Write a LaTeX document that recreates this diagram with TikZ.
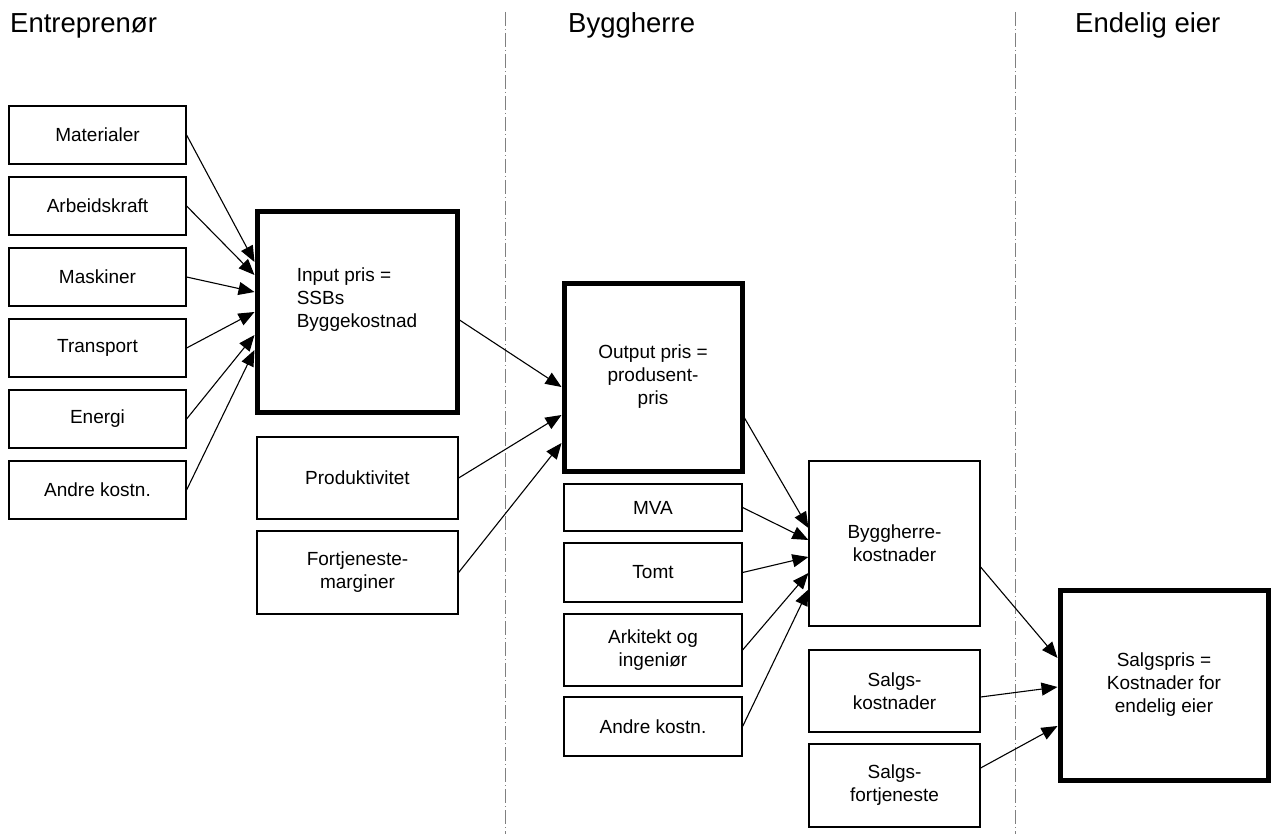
\documentclass[tikz,border=0pt]{standalone}
\usepackage{fontspec}
\setmainfont{Liberation Sans}
\usepackage{tikz}
\usetikzlibrary{arrows.meta}

\begin{document}
\begin{tikzpicture}[x=1pt, y=-1pt,
	box/.style={draw, line width=1.2pt, rectangle, align=center, inner sep=2pt,
		font=\fontsize{19}{23}\selectfont},
	pricebox/.style={box, line width=5pt},
	head/.style={anchor=base west, inner sep=0pt, font=\fontsize{27.5}{32}\selectfont},
	feed/.style={line width=1.1pt, -{Triangle[length=16pt,width=13pt]}},
	divider/.style={gray, line width=0.8pt, dash pattern=on 14pt off 3pt on 1pt off 3pt}]
	\useasboundingbox (0,0) rectangle (1273,834);
	% column dividers
	\draw[divider] (505,12) -- (505,834);
	\draw[divider] (1015,12) -- (1015,834);
	% headings
	\node[head] (h1) at (10,33) {Entrepren\o r};
	\node[head] (h2) at (568,33) {Byggherre};
	\node[head] (h3) at (1075,33) {Endelig eier};
	% entrepreneur inputs
	\node[box, minimum width=177, minimum height=58] (mat) at (97.5,135) {Materialer};
	\node[box, minimum width=177, minimum height=58] (arb) at (97.5,206) {Arbeidskraft};
	\node[box, minimum width=177, minimum height=58] (mas) at (97.5,277) {Maskiner};
	\node[box, minimum width=177, minimum height=58] (tra) at (97.5,348) {Transport};
	\node[box, minimum width=177, minimum height=58] (ene) at (97.5,419) {Energi};
	\node[box, minimum width=177, minimum height=58] (and1) at (97.5,490) {Andre kostn.};
	\node[pricebox, minimum width=200, minimum height=200, align=left] (inp) at (357,312) {Input pris =\\SSBs\\Byggekostnad\\[6pt]\mbox{}};
	\node[box, minimum width=201, minimum height=82] (pro) at (357.5,478) {Produktivitet};
	\node[box, minimum width=201, minimum height=83] (fort) at (357.5,572.5) {Fortjeneste-\\marginer};
	% byggherre
	\node[pricebox, minimum width=178, minimum height=188] (out) at (653,377) {Output pris =\\produsent-\\pris};
	\node[box, minimum width=178, minimum height=47] (mva) at (653,507.5) {MVA};
	\node[box, minimum width=178, minimum height=59] (tomt) at (653,572.5) {Tomt};
	\node[box, minimum width=178, minimum height=72] (ark) at (653,650) {Arkitekt og\\ingeni\o r};
	\node[box, minimum width=178, minimum height=59] (and2) at (653,726.5) {Andre kostn.};
	\node[box, minimum width=171, minimum height=165] (bkost) at (894.5,543.5) {Byggherre-\\kostnader};
	\node[box, minimum width=171, minimum height=82] (skost) at (894.5,691) {Salgs-\\kostnader};
	\node[box, minimum width=171, minimum height=83] (sfort) at (894.5,785.5) {Salgs-\\fortjeneste};
	% endelig eier
	\node[pricebox, minimum width=208, minimum height=190] (salg) at (1164,685) {Salgspris =\\Kostnader for\\endelig eier};
	% arrows
	\draw[feed] (mat.east) -- ([yshift=50pt]inp.west);
	\draw[feed] (arb.east) -- ([yshift=37pt]inp.west);
	\draw[feed] (mas.east) -- ([yshift=20pt]inp.west);
	\draw[feed] (tra.east) -- (inp.west);
	\draw[feed] (ene.east) -- ([yshift=-23pt]inp.west);
	\draw[feed] (and1.east) -- ([yshift=-38pt]inp.west);
	\draw[feed] ([yshift=-8pt]inp.east) -- ([yshift=-10pt]out.west);
	\draw[feed] (pro.east) -- ([yshift=-38pt]out.west);
	\draw[feed] (fort.east) -- ([yshift=-66pt]out.west);
	\draw[feed] ([yshift=-41pt]out.east) -- ([yshift=15.5pt]bkost.west);
	\draw[feed] (mva.east) -- ([yshift=3.5pt]bkost.west);
	\draw[feed] (tomt.east) -- ([yshift=-13.5pt]bkost.west);
	\draw[feed] (ark.east) -- ([yshift=-29.5pt]bkost.west);
	\draw[feed] (and2.east) -- ([yshift=-46pt]bkost.west);
	\draw[feed] ([yshift=-23.5pt]bkost.east) -- ([yshift=27pt]salg.west);
	\draw[feed] ([yshift=-6pt]skost.east) -- ([yshift=-2pt]salg.west);
	\draw[feed] ([yshift=17.5pt]sfort.east) -- ([yshift=-41pt]salg.west);
\end{tikzpicture}
\end{document}
